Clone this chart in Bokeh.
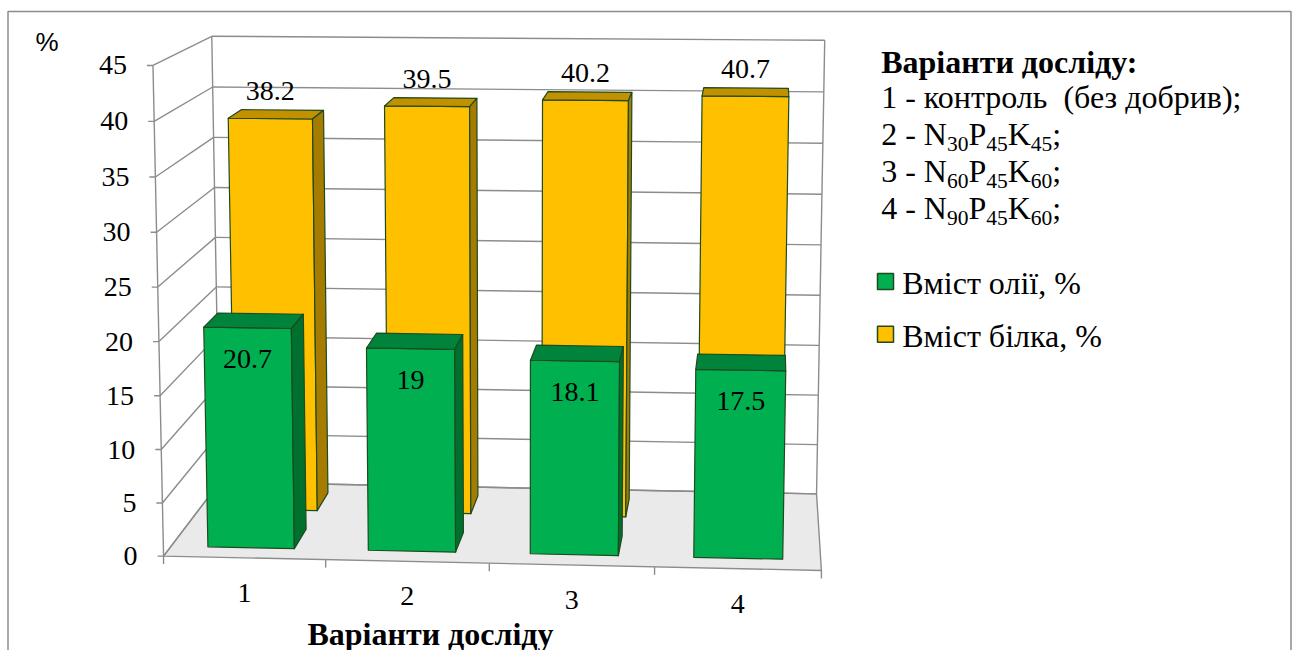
import numpy as np
from bokeh.plotting import figure
from bokeh.models import Range1d
from bokeh.core.properties import value
from bokeh.embed import file_html
from bokeh.resources import INLINE

# ---- data -------------------------------------------------------------
categories = ["1", "2", "3", "4"]
oil = [20.7, 19, 18.1, 17.5]            # Вміст олії, %
protein = [38.2, 39.5, 40.2, 40.7]      # Вміст білка, %
y_ticks = [0, 5, 10, 15, 20, 25, 30, 35, 40, 45]
oil_name = "Вміст олії, %"
protein_name = "Вміст білка, %"
axis_title = "Варіанти досліду"
legend_title = "Варіанти досліду:"
# each variant line as (text, is_subscript) pieces
variant_lines = [
    [("1 - контроль \u00a0(без добрив);", False)],
    [("2 - N", False), ("30", True), ("P", False), ("45", True), ("K", False), ("45", True), (" ;", False)],
    [("3 - N", False), ("60", True), ("P", False), ("45", True), ("K", False), ("60", True), (" ;", False)],
    [("4 - N", False), ("90", True), ("P", False), ("45", True), ("K", False), ("60", True), (";", False)],
]

# ---- page / plot-box layout ------------------------------------------
W, H = 1298, 650
N_CAT = len(categories)
Y_MAX = y_ticks[-1]
SERIF = "Liberation Serif"

# page positions of reference points of the 3-D plot box:
# (category coord, value, depth 0=front..1=back) -> (px, py)
BOX_ANCHORS = [
    ((0, 0, 0), (163.3, 555.7)),
    ((0, 5, 0), (161.7, 502.3)),
    ((0, 20, 0), (158.5, 340.7)),
    ((0, 40, 0), (153.3, 121.0)),
    ((0, 45, 0), (152.7, 65.0)),
    ((0, 45, 1), (211.7, 35.7)),
    ((0, 40, 1), (211.7, 86.7)),
    ((4, 45, 1), (824.3, 40.0)),
    ((4, 40, 1), (823.3, 91.0)),
    ((4, 0, 1), (816.0, 493.3)),
    ((4, 0, 0), (820.7, 570.0)),
    ((1, 0, 0), (325.0, 559.2)),
    ((2, 0, 0), (489.3, 562.8)),
    ((3, 0, 0), (654.0, 566.4)),
]


def fit_camera(anchors):
    rows = []
    for (X, Y, Z), (u, v) in anchors:
        w = np.array([X / N_CAT, Y / Y_MAX, Z, 1.0])
        u, v = u / 1000.0, v / 1000.0
        rows.append(np.r_[w, np.zeros(4), -u * w])
        rows.append(np.r_[np.zeros(4), w, -v * w])
    _, _, vt = np.linalg.svd(np.array(rows))
    return vt[-1].reshape(3, 4)


CAM = fit_camera(BOX_ANCHORS)


def project(X, Y, Z):
    X, Y, Z = np.broadcast_arrays(np.asarray(X, float), np.asarray(Y, float), np.asarray(Z, float))
    pts = np.stack([X / N_CAT, Y / Y_MAX, Z, np.ones_like(X)])
    h = CAM @ pts.reshape(4, -1)
    px = (h[0] / h[2] * 1000).reshape(X.shape)
    py = (h[1] / h[2] * 1000).reshape(X.shape)
    return px, py


p = figure(width=W, height=H, x_range=Range1d(0, W), y_range=Range1d(H, 0),
           x_axis_type=None, y_axis_type=None, output_backend="svg",
           toolbar_location=None, min_border=0)
p.grid.visible = False
p.outline_line_color = None
p.background_fill_color = "white"
p.border_fill_color = "white"

GRID = "#8C8C8C"

# chart border
p.line([7.5, 7.5, 1290.5, 1290.5], [H + 5, 11, 11, H + 5], line_color="#8C8C8C", line_width=1.5)

# ---- floor ------------------------------------------------------------
fx, fy = project([0, N_CAT, N_CAT, 0], [0, 0, 0, 0], [0, 0, 1, 1])
p.patch(list(fx), list(fy), fill_color="#EAEAEA", line_color=GRID, line_width=1.4)

# ---- walls: gridlines -------------------------------------------------
xs, ys = [], []
for t in y_ticks:
    a = project([0, 0], [t, t], [0, 1])          # left wall, front -> back
    xs.append(list(a[0])); ys.append(list(a[1]))
    b = project([0, N_CAT], [t, t], [1, 1])      # back wall
    xs.append(list(b[0])); ys.append(list(b[1]))
for X, Z in [(0, 0), (0, 1), (N_CAT, 1)]:        # wall verticals
    c = project([X, X], [0, Y_MAX], [Z, Z])
    xs.append(list(c[0])); ys.append(list(c[1]))
p.multi_line(xs, ys, line_color=GRID, line_width=1.4)

# axis ticks: value ticks pointing left, category ticks pointing down
tx, ty = [], []
ax, ay = project(np.zeros(len(y_ticks)), y_ticks, np.zeros(len(y_ticks)))
for x0, y0 in zip(ax, ay):
    tx.append([x0 - 6, x0]); ty.append([y0, y0])
cx, cy = project(np.arange(N_CAT + 1), np.zeros(N_CAT + 1), np.zeros(N_CAT + 1))
for x0, y0 in zip(cx, cy):
    tx.append([x0, x0]); ty.append([y0, y0 + 8])
p.multi_line(tx, ty, line_color=GRID, line_width=1.4)

# value tick labels
p.text(x=list(ax - 26), y=list(ay), text=[str(t) for t in y_ticks],
       text_font=value(SERIF), text_font_size=value("28px"), text_align="right",
       text_baseline="middle", text_color="black")

# category labels
lx, ly = project(np.arange(N_CAT) + 0.5, np.zeros(N_CAT), np.zeros(N_CAT))
p.text(x=list(lx), y=list(ly + 35), text=categories,
       text_font=value(SERIF), text_font_size=value("28px"), text_align="center",
       text_baseline="middle", text_color="black")

# ---- bars -------------------------------------------------------------
BAR_W = 0.54
SERIES = [  # back row first, front row last
    (protein, (0.625, 0.875), ("#FFC000", "#C29100", "#A67C00")),
    (oil, (0.125, 0.375), ("#00B050", "#00843C", "#00702F")),
]
OUTLINE = "#1E4A1E"


def signed_area(px, py):
    return 0.5 * np.sum(px * np.roll(py, -1) - np.roll(px, -1) * py)


face_x, face_y, face_c = [], [], []
for vals, (z0, z1), (c_front, c_top, c_side) in SERIES:
    for i, v in enumerate(vals):
        x0 = i + (1 - BAR_W) / 2
        x1 = i + (1 + BAR_W) / 2
        faces = [
            ([x0, x0, x1, x1], [0, v, v, 0], [z0, z0, z0, z0], c_front),   # front
            ([x0, x0, x1, x1], [v, v, v, v], [z0, z1, z1, z0], c_top),     # top
            ([x1, x1, x1, x1], [0, v, v, 0], [z0, z0, z1, z1], c_side),    # right
            ([x0, x0, x0, x0], [0, 0, v, v], [z0, z1, z1, z0], c_side),    # left
        ]
        ref = None
        for fxs, fys, fzs, col in faces:
            px, py = project(fxs, fys, fzs)
            a = signed_area(px, py)
            if ref is None:
                ref = np.sign(a)
            if np.sign(a) != ref or abs(a) < 1.0:
                continue
            face_x.append(list(px)); face_y.append(list(py)); face_c.append(col)

p.patches(face_x, face_y, fill_color=face_c, line_color=OUTLINE, line_width=1.2,
          line_join="round")

# ---- value labels -----------------------------------------------------
pc = np.arange(N_CAT) + 0.5
yfx, _ = project(pc, protein, np.full(N_CAT, 0.625))      # centred on the front face
_, yby = project(pc, protein, np.full(N_CAT, 0.875))      # just above the top face
p.text(x=list(yfx), y=list(yby - 19), text=[f"{v:g}" for v in protein],
       text_font=value(SERIF), text_font_size=value("28px"), text_align="center",
       text_baseline="middle", text_color="black")
gx, gy = project(pc, oil, np.full(N_CAT, 0.125))
p.text(x=list(gx), y=list(gy + 31), text=[f"{v:g}" for v in oil],
       text_font=value(SERIF), text_font_size=value("28px"), text_align="center",
       text_baseline="middle", text_color="black")

# ---- axis titles ------------------------------------------------------
p.text(x=[35], y=[41.7], text=["%"], text_font=value("Liberation Sans"),
       text_font_size=value("26px"), text_baseline="middle", text_color="black")
p.text(x=[430], y=[633], text=[axis_title], text_font=value(SERIF),
       text_font_size=value("32px"), text_font_style="bold", text_align="center",
       text_baseline="middle", text_color="black")

# ---- legend / variants block ------------------------------------------
LX = 880.7
MAIN, SUB = 32.0, 21.5
TIMES_W = {" ": 0.25, "-": 0.333, "N": 0.722, "P": 0.556, "K": 0.722, ";": 0.278}
for d in "0123456789":
    TIMES_W[d] = 0.5

p.text(x=[LX], y=[61.5], text=[legend_title], text_font=value(SERIF),
       text_font_size=value("32px"), text_font_style="bold",
       text_baseline="middle", text_color="black")

main_x, main_y, main_t, sub_x, sub_y, sub_t = [], [], [], [], [], []
for k, pieces in enumerate(variant_lines):
    base = 107.3 + 36.9 * k
    x = LX
    for txt, is_sub in pieces:
        if is_sub:
            sub_x.append(x); sub_y.append(base + 6.5 - 7.4); sub_t.append(txt)
            x += sum(TIMES_W.get(ch, 0.5) for ch in txt) * SUB
        else:
            main_x.append(x); main_y.append(base - 11.0); main_t.append(txt)
            x += sum(TIMES_W.get(ch, 0.5) for ch in txt) * MAIN
p.text(x=main_x, y=main_y, text=main_t, text_font=value(SERIF),
       text_font_size=value("32px"), text_baseline="middle", text_color="black")
p.text(x=sub_x, y=sub_y, text=sub_t, text_font=value(SERIF),
       text_font_size=value("21.5px"), text_baseline="middle", text_color="black")

# series legend
leg_base = [293.3, 346.0]
leg_cols = [SERIES[1][2][0], SERIES[0][2][0]]
p.rect(x=[885] * 2, y=[b - 12.3 for b in leg_base], width=16, height=16,
       fill_color=leg_cols, line_color=OUTLINE, line_width=1.5)
p.text(x=[901.7] * 2, y=[b - 11.0 for b in leg_base], text=[oil_name, protein_name],
       text_font=value(SERIF), text_font_size=value("32px"), text_baseline="middle",
       text_color="black")

open("out.html", "w").write(file_html(p, INLINE))
